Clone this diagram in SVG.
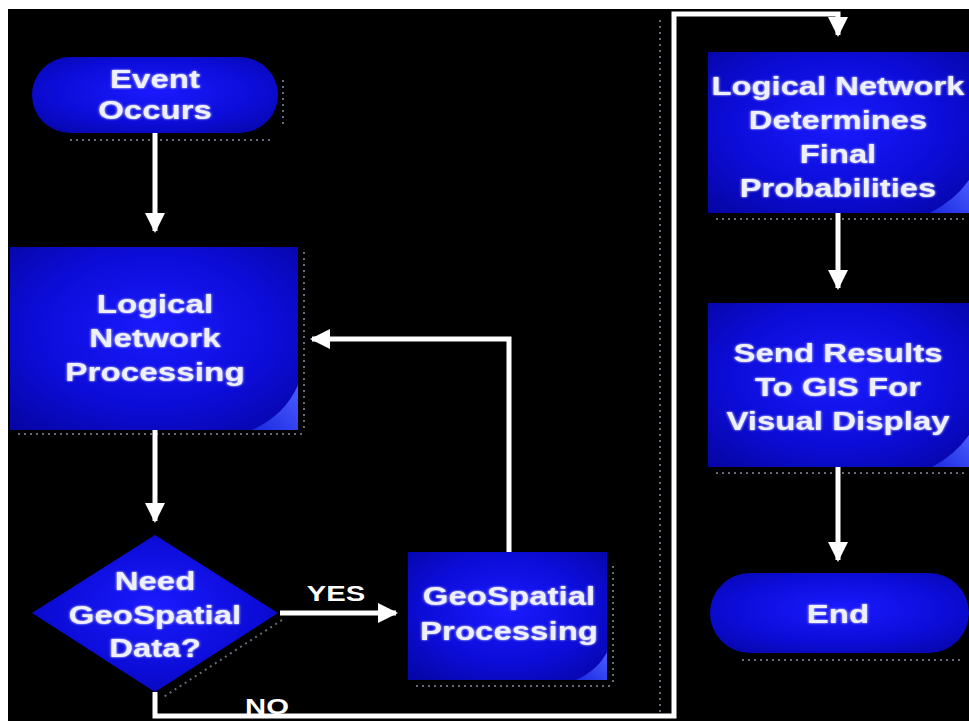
<svg xmlns="http://www.w3.org/2000/svg" width="969" height="721" viewBox="0 0 969 721">
<defs>
  <radialGradient id="boxfill" cx="50%" cy="45%" r="70%">
    <stop offset="0%" stop-color="#1a1aff"/>
    <stop offset="60%" stop-color="#0c0cd8"/>
    <stop offset="100%" stop-color="#0606a8"/>
  </radialGradient>
  <linearGradient id="curl" x1="0" y1="1" x2="1" y2="0">
    <stop offset="0%" stop-color="#1a2ae0"/>
    <stop offset="100%" stop-color="#4a5cff"/>
  </linearGradient>
  <filter id="glow" x="-20%" y="-20%" width="140%" height="140%">
    <feGaussianBlur in="SourceGraphic" stdDeviation="1.2" result="b"/>
    <feMerge><feMergeNode in="b"/><feMergeNode in="SourceGraphic"/></feMerge>
  </filter>
  <marker id="ah" viewBox="0 0 10 10" refX="9" refY="5" markerWidth="4" markerHeight="4" markerUnits="strokeWidth" orient="auto">
    <path d="M0,0 L10,5 L0,10 Z" fill="#ffffff"/>
  </marker>
</defs>
<style>
  .box { fill: url(#boxfill); }
  .curl { fill: url(#curl); }
  .shadow { fill: none; stroke: #6a6a7a; stroke-width: 2; stroke-dasharray: 2 4; }
  .lbl { font-family: "Liberation Sans", Arial, sans-serif; font-weight: bold; font-size: 26px; fill: #eef0ff; text-anchor: middle; filter: url(#glow); }
  .conn { fill: none; stroke: #ffffff; stroke-width: 5; stroke-linejoin: miter; }
  .clbl { font-family: "Liberation Sans", Arial, sans-serif; font-weight: bold; font-size: 22px; fill: #ffffff; text-anchor: middle; }
</style>
<rect x="0" y="0" width="969" height="721" fill="#ffffff"/>
<rect x="8" y="9" width="961" height="712" fill="#000000"/>

<g id="event-occurs">
  <path class="shadow" d="M70,140 H272 M283,80 V128"/>
  <rect class="box" x="32" y="57" width="246" height="76" rx="38" ry="38"/>
  <g transform="translate(155,0) scale(1.27,1)">
    <text class="lbl" x="0" y="88">Event</text>
    <text class="lbl" x="0" y="119">Occurs</text>
  </g>
</g>

<g id="logical-network-processing">
  <path class="shadow" d="M18,434 H305 M304,252 V432"/>
  <rect class="box" x="10" y="247" width="288" height="183"/>
  <path class="curl" d="M252,430 Q285,415 298,385 L298,430 Z"/>
  <g transform="translate(155,0) scale(1.28,1)">
    <text class="lbl" x="0" y="313">Logical</text>
    <text class="lbl" x="0" y="347">Network</text>
    <text class="lbl" x="0" y="381">Processing</text>
  </g>
</g>

<g id="need-geospatial-data">
  <path class="shadow" d="M282,620 L162,698"/>
  <polygon class="box" points="155,535 278,613 155,692 32,613"/>
  <g transform="translate(155,0) scale(1.27,1)">
    <text class="lbl" x="0" y="590">Need</text>
    <text class="lbl" x="0" y="624">GeoSpatial</text>
    <text class="lbl" x="0" y="657">Data?</text>
  </g>
</g>

<g id="geospatial-processing">
  <path class="shadow" d="M416,686 H612 M613,566 V684"/>
  <rect class="box" x="408" y="552" width="199" height="128"/>
  <path class="curl" d="M576,680 Q598,670 607,652 L607,680 Z"/>
  <g transform="translate(509,0) scale(1.27,1)">
    <text class="lbl" x="0" y="605">GeoSpatial</text>
    <text class="lbl" x="0" y="640">Processing</text>
  </g>
</g>

<g id="logical-network-determines">
  <path class="shadow" d="M716,219 H966"/>
  <rect class="box" x="708" y="52" width="261" height="161"/>
  <path class="curl" d="M930,213 Q955,200 969,180 L969,213 Z"/>
  <g transform="translate(838,0) scale(1.26,1)">
    <text class="lbl" x="0" y="95">Logical Network</text>
    <text class="lbl" x="0" y="129">Determines</text>
    <text class="lbl" x="0" y="163">Final</text>
    <text class="lbl" x="0" y="197">Probabilities</text>
  </g>
</g>

<g id="send-results">
  <path class="shadow" d="M716,473 H966"/>
  <rect class="box" x="708" y="303" width="261" height="164"/>
  <path class="curl" d="M932,467 Q955,455 969,435 L969,467 Z"/>
  <g transform="translate(838,0) scale(1.27,1)">
    <text class="lbl" x="0" y="362">Send Results</text>
    <text class="lbl" x="0" y="396">To GIS For</text>
    <text class="lbl" x="0" y="430">Visual Display</text>
  </g>
</g>

<g id="end">
  <path class="shadow" d="M742,660 H960"/>
  <rect class="box" x="710" y="573" width="259" height="80" rx="40" ry="40"/>
  <g transform="translate(838,0) scale(1.27,1)">
    <text class="lbl" x="0" y="623">End</text>
  </g>
</g>

<g id="connectors">
  <path class="shadow" d="M660,20 V716"/>
  <path class="conn" d="M155,133 V231" marker-end="url(#ah)"/>
  <path class="conn" d="M155,430 V521" marker-end="url(#ah)"/>
  <path class="conn" d="M280,613 H396" marker-end="url(#ah)"/>
  <path class="conn" d="M509,552 V339 H312" marker-end="url(#ah)"/>
  <path class="conn" d="M155,692 V716 H674 V14 H838 V35" marker-end="url(#ah)"/>
  <path class="conn" d="M838,213 V288" marker-end="url(#ah)"/>
  <path class="conn" d="M838,467 V560" marker-end="url(#ah)"/>
  <g transform="translate(336,0) scale(1.33,1)">
    <text class="clbl" x="0" y="601">YES</text>
  </g>
  <g transform="translate(267,0) scale(1.33,1)">
    <text class="clbl" x="0" y="714">NO</text>
  </g>
</g>
</svg>
